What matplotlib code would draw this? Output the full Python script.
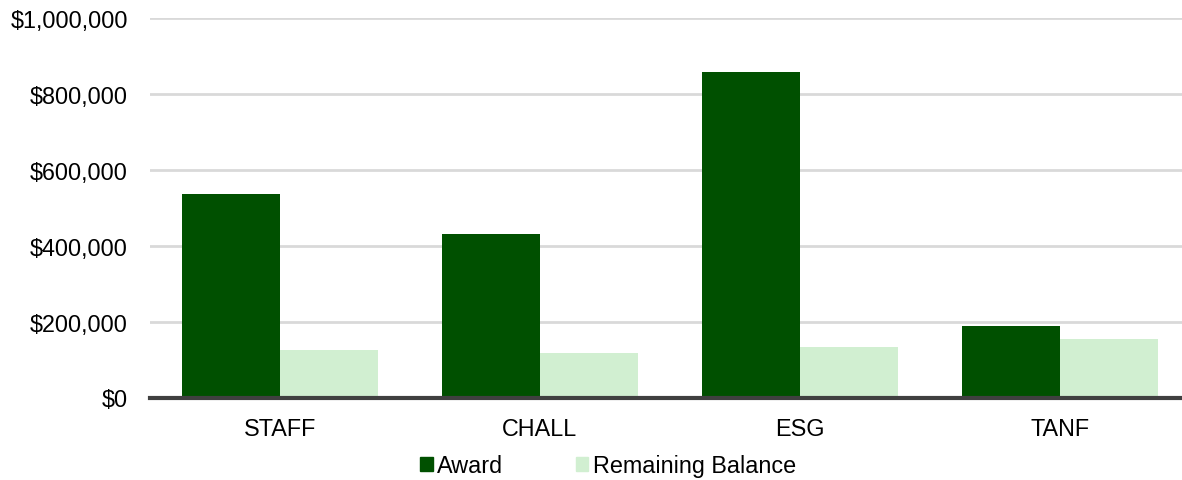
import matplotlib.pyplot as plt
import numpy as np
from matplotlib.patches import Patch
from matplotlib.ticker import FuncFormatter

categories = ['STAFF', 'CHALL', 'ESG', 'TANF']
award = [536000, 430000, 859000, 188000]
remaining = [125000, 117000, 133000, 154000]

dark_green = '#005000'
light_green = '#D1EFD1'

plt.rcParams['font.family'] = ['Liberation Sans', 'DejaVu Sans']
fs = 16.8

fig = plt.figure(figsize=(11.82, 4.81), dpi=100)
ax = fig.add_axes([150 / 1182, 82.5 / 481, 1032 / 1182, 379.2 / 481])

x = np.arange(len(categories))
w = 0.377
ax.bar(x - w / 2, award, w, color=dark_green, zorder=3)
ax.bar(x + w / 2, remaining, w, color=light_green, zorder=3)

ax.set_xlim(-0.5, 3.47)
ax.set_ylim(0, 1000000)
ax.set_yticks(np.arange(0, 1000001, 200000))
ax.yaxis.set_major_formatter(FuncFormatter(lambda v, p: '${:,.0f}'.format(v)))
ax.set_xticks(x)
ax.set_xticklabels(categories)

ax.grid(axis='y', color='#D9D9D9', linewidth=2, zorder=0)
for s in ['top', 'right', 'left']:
    ax.spines[s].set_visible(False)
ax.spines['bottom'].set_color('#404040')
ax.spines['bottom'].set_linewidth(3)
ax.spines['bottom'].set_zorder(4)

ax.tick_params(axis='both', length=0, labelsize=fs, colors='black')
ax.tick_params(axis='y', pad=16)
ax.tick_params(axis='x', pad=14)

handles = [Patch(color=dark_green, label='Award'),
           Patch(color=light_green, label='Remaining Balance')]
fig.legend(handles=handles, loc='center', bbox_to_anchor=(608 / 1182, 1 - 467 / 481),
           ncol=2, frameon=False, fontsize=fs, handlelength=0.55, handleheight=0.55,
           handletextpad=0.2, columnspacing=3.1)

plt.savefig('out.png', dpi=100)
